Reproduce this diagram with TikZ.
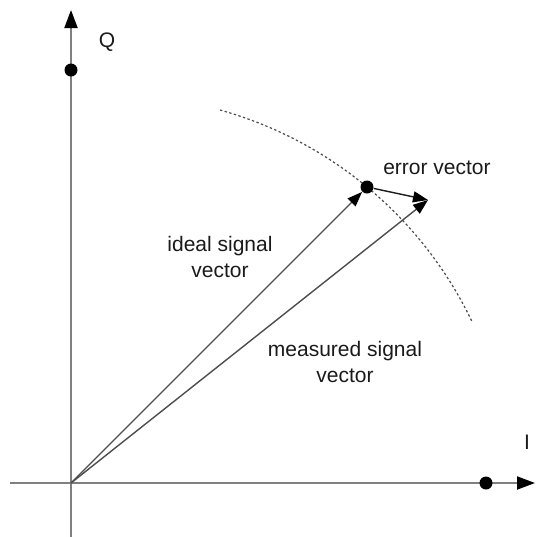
\documentclass[tikz,border=0pt]{standalone}
\usepackage{fontspec}
\setmainfont{Liberation Sans}
\usetikzlibrary{arrows.meta}
\definecolor{axisc}{HTML}{808080}
\definecolor{vecc}{HTML}{4D4D4D}
\definecolor{ink}{HTML}{1A1A1A}
\tikzset{
  axis/.style={-{Triangle[length=9pt,width=6.5pt,color=black]},line width=1pt,color=axisc},
  vec/.style={-{Triangle[length=7.5pt,width=5.5pt,color=black]},line width=0.7pt,color=vecc},
  errvec/.style={vec,color=ink},
  dot/.style={circle,fill=black,inner sep=0pt,minimum size=6.5pt},
  circ/.style={line width=0.6pt,color=vecc,dash pattern=on 1.2pt off 1.2pt},
  lbl/.style={font=\fontsize{10.5}{13}\selectfont,text=ink,align=center}
}
\begin{document}
\begin{tikzpicture}[x=0.5pt,y=-0.5pt]
  \useasboundingbox (0,0) rectangle (536,537);
  % axes
  \coordinate (O)      at (71,483);
  \coordinate (qbot)   at (71,537);
  \coordinate (qtop)   at (71,10);
  \coordinate (ileft)  at (10,483);
  \coordinate (iright) at (535,483);
  \draw[axis] (qbot) -- (qtop);
  \draw[axis] (ileft) -- (iright);
  \node[lbl] (qlbl) at (107,42) {Q};
  \node[lbl] (ilbl) at (527,442) {I};
  % unit points on the axes
  \node[dot] (qdot) at (71,70) {};
  \node[dot] (idot) at (486,483) {};
  % constant amplitude circle
  \coordinate (arcA) at (220,110);
  \draw[circ] (arcA) arc[start angle=-74.4,end angle=-25.5,radius=398];
  % vectors
  \node[dot] (tip) at (367,187) {};
  \coordinate (meas) at (428,200);
  \draw[vec] (O) -- (tip);
  \draw[vec] (O) -- (meas);
  \draw[errvec] (tip) -- (meas);
  \node[lbl] (idl) at (220,257) {ideal signal\\vector};
  \node[lbl] (msl) at (345,362) {measured signal\\vector};
  \node[lbl] (erl) at (437,168) {error vector};
\end{tikzpicture}
\end{document}
